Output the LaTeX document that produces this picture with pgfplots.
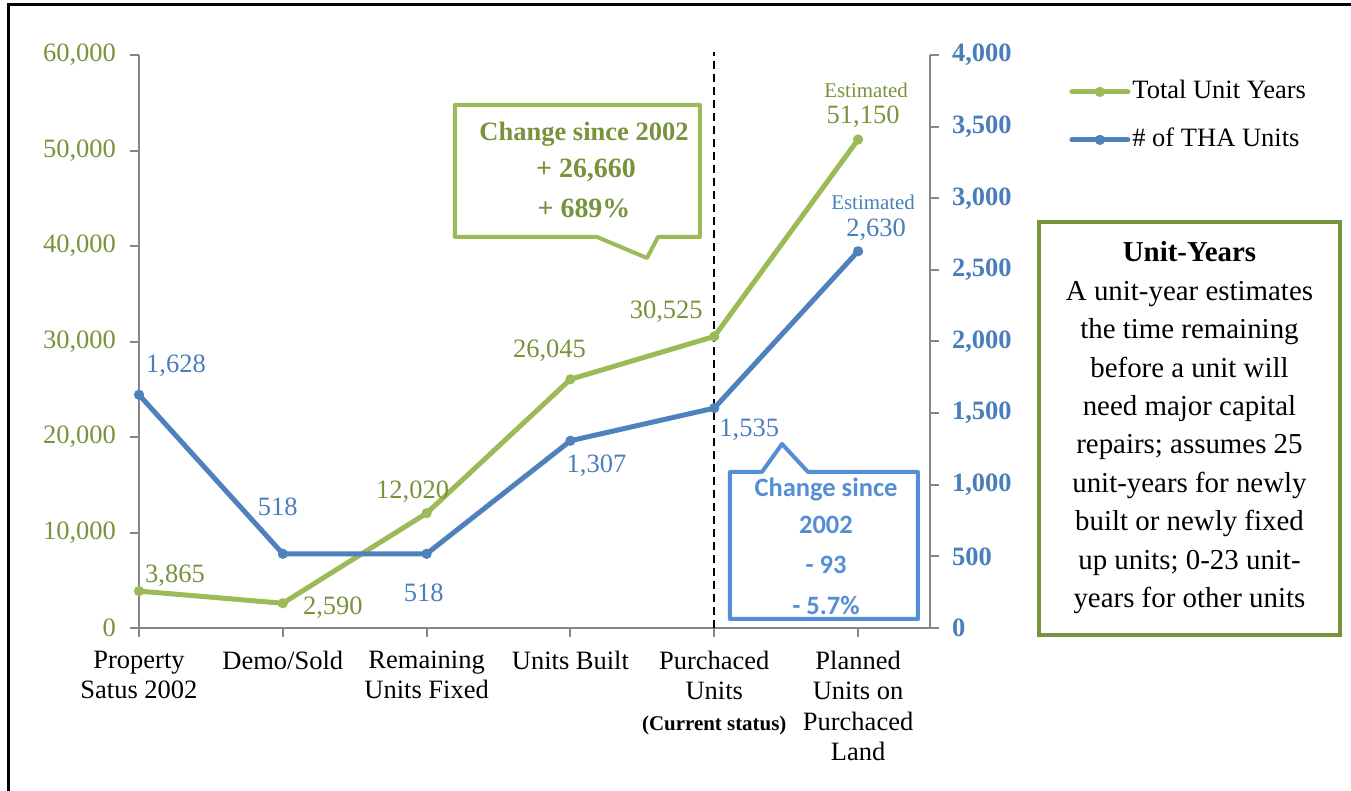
\documentclass[border=0pt]{standalone}
\usepackage{fontspec}
\setmainfont{Liberation Serif}
\newfontfamily\carlito{Carlito}
\usepackage{pgfplots}
\pgfplotsset{compat=1.18}
\definecolor{lgreen}{HTML}{9BBB59}
\definecolor{tgreen}{HTML}{77933C}
\definecolor{lblue}{HTML}{4F81BD}
\definecolor{tblue}{HTML}{4A7EBB}
\definecolor{cblue}{HTML}{558ED5}
\definecolor{axgray}{HTML}{868686}
\newcommand{\lab}{\fontsize{13.3}{16}\selectfont}
\begin{document}
\begin{tikzpicture}
\useasboundingbox (0,0) rectangle (675.5bp,395.5bp);
\draw[line width=1.5bp] (4bp,-2bp) -- (4bp,393bp) -- (680bp,393bp);
\pgfplotsset{
  common/.style={
    at={(69.5bp,81.5bp)}, anchor=south west,
    scale only axis, width=395.5bp, height=286.5bp,
    xmin=0, xmax=5.5, ymin=0, clip=false,
    axis line style={draw=axgray, line width=1.2bp},
    tick style={draw=axgray, line width=1bp},
    major tick length=4.5bp, tick align=outside,
    scaled y ticks=false,
    /pgf/number format/1000 sep={,},
    /pgf/number format/assume math mode=true,
  },
  ser/.style={line width=2.5bp, line join=round, line cap=round, mark=*, mark size=2.3bp, mark options={fill=#1, draw=#1, line width=0.5bp}, color=#1},
}
\begin{axis}[common,
  ymax=60000,
  axis y line*=left, axis x line*=bottom,
  xtick={0,1,2,3,4,5},
  xticklabels={{Property\\Satus 2002},{Demo/Sold},{Remaining\\Units Fixed},{Units Built},{Purchaced\\Units\\{\fontsize{10.5}{15.25}\selectfont\bfseries (Current status)}},{Planned\\Units on\\Purchaced\\Land}},
  xticklabel style={align=center, font=\fontsize{13.3}{15.25}\selectfont, text=black, anchor=north, yshift=-3.5bp},
  ytick={0,10000,...,60000},
  yticklabel style={text=tgreen, font=\lab, xshift=-3.5bp},
]
\addplot[ser=lgreen] coordinates {(0,3865)(1,2590)(2,12020)(3,26045)(4,30525)(5,51150)};
\draw[line width=1bp, dash pattern=on 4bp off 2.5bp] (axis cs:4,0) -- (axis cs:4,60300);
\begin{scope}[every node/.style={anchor=base, text=tgreen, font=\lab}]
\node[xshift=18bp, yshift=4.5bp] at (axis cs:0,3865) {3,865};
\node[xshift=25bp, yshift=-5.75bp] at (axis cs:1,2590) {2,590};
\node[xshift=-7bp, yshift=7.5bp] at (axis cs:2,12020) {12,020};
\node[xshift=-10.5bp, yshift=11bp] at (axis cs:3,26045) {26,045};
\node[xshift=-24bp, yshift=9bp] at (axis cs:4,30525) {30,525};
\node[xshift=2.5bp, yshift=8bp] at (axis cs:5,51150) {51,150};
\node[xshift=4bp, yshift=21bp, font=\fontsize{10.5}{12}\selectfont] at (axis cs:5,51150) {Estimated};
\end{scope}
\end{axis}
\begin{axis}[common,
  ymax=4000,
  axis y line*=right, hide x axis,
  ytick={0,500,...,4000},
  yticklabel style={text=tblue, font=\lab\bfseries, xshift=3bp},
  legend style={at={(1.1757,0.9616)}, anchor=north west, draw=none, fill=none, inner sep=0pt, font=\lab, row sep=9.5bp, nodes={inner sep=1bp, text height=9.5bp, text depth=3bp}, /tikz/every even column/.append style={column sep=0bp}},
  legend cell align=left,
  legend image code/.code={\draw[mark repeat=2,mark phase=2,#1] plot coordinates {(0bp,0bp) (14bp,0bp) (28bp,0bp)};},
]
\addlegendimage{ser=lgreen}
\addlegendentry{Total Unit Years}
\addplot[ser=lblue] coordinates {(0,1628)(1,518)(2,518)(3,1307)(4,1535)(5,2630)};
\addlegendentry{\# of THA Units}
\begin{scope}[every node/.style={anchor=base, text=tblue, font=\lab}]
\node[xshift=18.5bp, yshift=11bp] at (axis cs:0,1628) {1,628};
\node[xshift=-2.5bp, yshift=19bp] at (axis cs:1,518) {518};
\node[xshift=-1.5bp, yshift=-24bp] at (axis cs:2,518) {518};
\node[xshift=13bp, yshift=-16bp] at (axis cs:3,1307) {1,307};
\node[xshift=17.5bp, yshift=-14bp] at (axis cs:4,1535) {1,535};
\node[xshift=9bp, yshift=7.5bp] at (axis cs:5,2630) {2,630};
\node[xshift=7.5bp, yshift=21bp, font=\fontsize{10.5}{12}\selectfont] at (axis cs:5,2630) {Estimated};
\end{scope}
\end{axis}
\begin{scope}[x=0.5bp, y=-0.5bp, yshift=395.5bp]
% green callout
\draw[lgreen, line width=2bp, line join=round] (455,105) -- (700,105) -- (700,237) -- (658,237) -- (647,258) -- (597,237) -- (455,237) -- cycle;
\begin{scope}[every node/.style={anchor=base, text=tgreen, font=\lab\bfseries}]
\node at (584,141) {Change since 2002};
\node[font=\fontsize{14}{16}\selectfont\bfseries] at (586,178) {+ 26,660};
\node[font=\fontsize{14}{16}\selectfont\bfseries] at (584,218) {+ 689\%};
\end{scope}
% blue callout
\begin{scope}[every node/.style={anchor=base, text=cblue, font=\carlito\lab\bfseries}]
\node at (826,497) {Change since};
\node at (826,534) {2002};
\node at (826,574) {- 93};
\node at (826,615) {- 5.7\%};
\end{scope}
\draw[cblue, line width=2bp, line join=round] (730,472) -- (762,472) -- (782,444) -- (808,472) -- (918,472) -- (918,619) -- (730,619) -- cycle;
% Unit-Years box
\draw[tgreen, line width=2bp] (1039,222) rectangle (1340,635);
\node[anchor=base, font=\fontsize{14.5}{17}\selectfont\bfseries] at (1189.5,262) {Unit-Years};
\foreach \t [count=\i] in {A unit-year estimates, the time remaining, before a unit will, need major capital, repairs; assumes 25, unit-years for newly, built or newly fixed, up units; 0-23 unit-, years for other units}
  \node[anchor=base, font=\fontsize{14.5}{17}\selectfont] at (1189.5,{262+38.4*\i}) {\t};
\end{scope}
\end{tikzpicture}
\end{document}
